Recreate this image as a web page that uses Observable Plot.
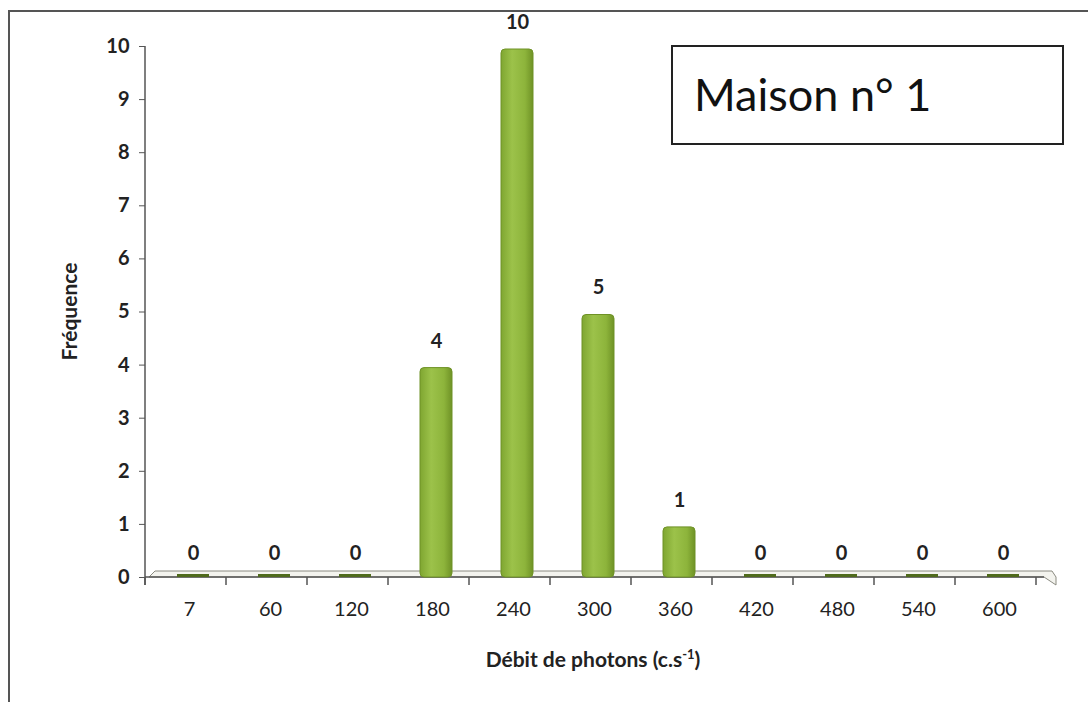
<!DOCTYPE html>
<html>
<head>
<meta charset="utf-8">
<script src="https://cdn.jsdelivr.net/npm/d3@7"></script>
<script src="https://cdn.jsdelivr.net/npm/@observablehq/plot@0.6"></script>
<style>
  html, body { margin: 0; padding: 0; background: #fff; }
  #wrap { position: relative; width: 1088px; height: 702px; overflow: hidden; background: #fff; }
  #frame { position: absolute; left: 8px; top: 10px; width: 1200px; height: 800px; border: 2px solid #555; box-sizing: border-box; }
  #titlebox { position: absolute; left: 671px; top: 45px; width: 393px; height: 100px; border: 2px solid #222; box-sizing: border-box; background: #fff;
    font-family: Lato, "Open Sans", sans-serif; font-size: 45px; color: #111; padding-left: 21px; line-height: 94px; }
  #chart { position: absolute; left: 0; top: 0; }
</style>
</head>
<body>
<div id="wrap">
  <div id="frame"></div>
  <div id="chart"></div>
  <div id="titlebox">Maison n° 1</div>
</div>
<script>
const categories = ["7", "60", "120", "180", "240", "300", "360", "420", "480", "540", "600"];
const frequencies = [0, 0, 0, 4, 10, 5, 1, 0, 0, 0, 0];
const yTicks = [0, 1, 2, 3, 4, 5, 6, 7, 8, 9, 10];
const title = "Maison n° 1";
const xLabel = "Débit de photons (c.s";
const yLabel = "Fréquence";

const data = categories.map((c, i) => ({cat: c, value: frequencies[i]}));
const zeroData = data.filter(d => d.value === 0);
const font = "Lato, 'Open Sans', sans-serif";

function gradientDefs() {
  const defs = d3.create("svg:defs");
  const lg = defs.append("linearGradient").attr("id", "barGrad").attr("x1", "0").attr("x2", "1").attr("y1", "0").attr("y2", "0");
  lg.append("stop").attr("offset", "0%").attr("stop-color", "#7fa631");
  lg.append("stop").attr("offset", "35%").attr("stop-color", "#9cc24a");
  lg.append("stop").attr("offset", "75%").attr("stop-color", "#8db43b");
  lg.append("stop").attr("offset", "100%").attr("stop-color", "#6f9226");
  return defs.node();
}

// floor, axis lines and boundary ticks drawn with the library's scales
function floorAndTicks(index, scales, values, dims) {
  const g = d3.create("svg:g");
  const x = scales.x, y = scales.y;
  const step = x.step();
  const [left, right] = x.range();
  const y0 = y(0), yTop = y(10);
  g.append("path")
    .attr("d", `M${left + 4},${y0} L${left + 10},${y0 - 6} L${right + 8},${y0 - 6} L${right + 12},${y0} L${right + 12},${y0 + 8} L${right},${y0} Z`)
    .attr("fill", "#f3f3ee").attr("stroke", "#8a8a80").attr("stroke-width", 1);
  g.append("line").attr("x1", left).attr("x2", right).attr("y1", y0).attr("y2", y0)
    .attr("stroke", "#555").attr("stroke-width", 1.5);
  g.append("line").attr("x1", left).attr("x2", left).attr("y1", yTop).attr("y2", y0 + 8)
    .attr("stroke", "#555").attr("stroke-width", 1.5);
  for (let i = 0; i <= categories.length; i++) {
    const xx = left + i * step;
    g.append("line").attr("x1", xx).attr("x2", xx).attr("y1", y0).attr("y2", y0 + 8)
      .attr("stroke", "#555").attr("stroke-width", 1.5);
  }
  return g.node();
}

const chart = Plot.plot({
  width: 1088,
  height: 702,
  marginLeft: 145,
  marginRight: 44,
  marginTop: 46,
  marginBottom: 125,
  style: {fontFamily: font, fontSize: "20px", color: "#222", background: "transparent"},
  x: {domain: categories, paddingInner: 0.6, paddingOuter: 0.3, label: null},
  y: {domain: [0, 10], label: null},
  marks: [
    gradientDefs,
    floorAndTicks,
    Plot.axisY({ticks: yTicks, tickSize: 6, tickPadding: 10, fontSize: 20, fontWeight: "bold", stroke: "#555", fill: "#222", label: null}),
    Plot.axisX({tickSize: 0, tickPadding: 24, fontSize: 20, fill: "#222", label: null}),
    Plot.barY(data, {x: "cat", y: "value", fill: "url(#barGrad)", stroke: "#6f9226", strokeWidth: 1, rx: 4, dx: 4, insetTop: 3}),
    Plot.tickY(zeroData, {x: "cat", y: "value", stroke: "#4f6a1c", strokeWidth: 3, dy: -2, dx: 4}),
    Plot.text(data, {x: "cat", y: "value", text: d => String(d.value), dy: -24, dx: 4, fontSize: 20, fontWeight: "bold", fill: "#222"})
  ]
});

document.getElementById("chart").appendChild(chart);

const s = d3.select(chart);
const ymid = (46 + 577) / 2;
s.append("text").attr("transform", `translate(72,${ymid}) rotate(-90)`)
  .attr("text-anchor", "middle").attr("dominant-baseline", "middle")
  .attr("font-family", font).attr("font-weight", "bold").attr("font-size", 21).attr("fill", "#222")
  .text(yLabel);
const t = s.append("text").attr("x", 593).attr("y", 667).attr("text-anchor", "middle")
  .attr("font-family", font).attr("font-weight", "bold").attr("font-size", 21).attr("fill", "#222");
t.append("tspan").text(xLabel);
t.append("tspan").attr("dy", -8).attr("font-size", 13).text("-1");
t.append("tspan").attr("dy", 8).text(")");
</script>
</body>
</html>
